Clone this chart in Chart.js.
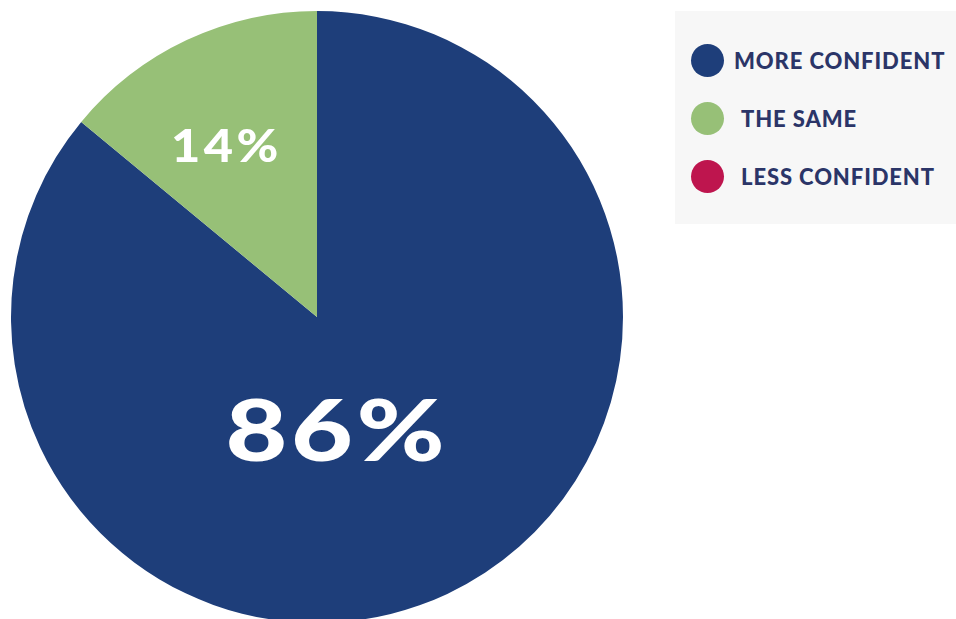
<!DOCTYPE html>
<html>
<head>
<meta charset="utf-8">
<script src="https://cdn.jsdelivr.net/npm/chart.js@4.4.1/dist/chart.umd.min.js"></script>
<style>
  html, body { margin: 0; padding: 0; background: #ffffff; overflow: hidden; }
  body { width: 956px; height: 619px; position: relative; }
  #pieWrap { position: absolute; left: 0; top: 0; width: 634px; height: 634px; }
  #legend {
    position: absolute; left: 675px; top: 11px; width: 281px; height: 213px;
    background: #f7f7f7; box-sizing: border-box; padding-top: 36px;
  }
  .item { display: flex; align-items: center; height: 58px; margin-top: -16px; margin-bottom: 16px; }
  .dot { width: 33px; height: 33px; border-radius: 50%; margin-left: 16px; flex: none; }
  .txt {
    font-family: "Lato", sans-serif; font-weight: 900; font-size: 22px;
    color: #2b3568; letter-spacing: 0.9px; white-space: nowrap;
  }
</style>
</head>
<body>
<div id="pieWrap"><canvas id="pieChart"></canvas></div>
<div id="legend"></div>
<script>
// ================= DATA =================
const labels = ["MORE CONFIDENT", "THE SAME", "LESS CONFIDENT"];
const values = [86, 14, 0];
const colors = ["#1e3e7a", "#97c077", "#be154e"];

// label placement inside each slice: [angle shift (rad), radius fraction, font px, x stretch]
const labelStyle = [
    [0.27, 0.385, 86, 1.24],
    [-0.05, 0.63, 46, 1.1],
    [0, 0.6, 40, 1]
];
const textIndent = [0, 7, 7];

// ================= LEGEND =================
const legend = document.getElementById("legend");
labels.forEach((name, i) => {
    const row = document.createElement("div");
    row.className = "item";
    row.innerHTML = `<span class="dot" style="background:${colors[i]}"></span>` +
        `<span class="txt" style="margin-left:${10 + textIndent[i]}px">${name}</span>`;
    legend.appendChild(row);
});

// ================= SLICE LABELS =================
const sliceLabels = {
    id: "sliceLabels",
    afterDatasetsDraw(chart) {
        const ctx = chart.ctx;
        const meta = chart.getDatasetMeta(0);
        meta.data.forEach((arc, i) => {
            if (!values[i]) return;
            const p = arc.getProps(["x", "y", "startAngle", "endAngle", "outerRadius"], true);
            const [shift, frac, size, stretch] = labelStyle[i];
            const mid = (p.startAngle + p.endAngle) / 2 + shift;
            const r = p.outerRadius * frac;
            ctx.save();
            ctx.translate(p.x + Math.cos(mid) * r, p.y + Math.sin(mid) * r);
            ctx.scale(stretch, 1);
            ctx.fillStyle = "#ffffff";
            ctx.font = `900 ${size}px Lato, sans-serif`;
            ctx.letterSpacing = "3px";
            ctx.textAlign = "center";
            ctx.textBaseline = "middle";
            ctx.fillText(values[i] + "%", 0, 0);
            ctx.restore();
        });
    }
};

// ================= PIE CHART =================
new Chart(document.getElementById("pieChart"), {
    type: "pie",
    data: {
        labels,
        datasets: [{
            data: values,
            backgroundColor: colors,
            borderWidth: 0
        }]
    },
    options: {
        responsive: true,
        maintainAspectRatio: false,
        animation: false,
        layout: { padding: 11 },
        plugins: {
            legend: { display: false },
            tooltip: { enabled: false }
        }
    },
    plugins: [sliceLabels]
});
</script>
</body>
</html>
